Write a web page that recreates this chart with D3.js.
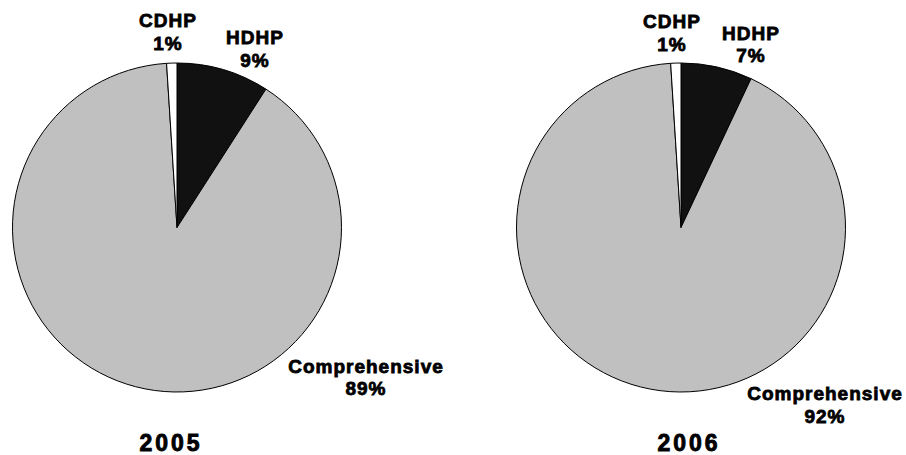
<!DOCTYPE html>
<html>
<head>
<meta charset="utf-8">
<script src="https://cdn.jsdelivr.net/npm/d3@7"></script>
<style>
  html, body { margin: 0; padding: 0; background: #fff; }
  svg { display: block; }
  text { font-family: "Liberation Sans", Arial, sans-serif; font-weight: bold; fill: #000; }
</style>
</head>
<body>
<svg id="chart" width="906" height="455"></svg>
<script>
// ---- data ----
const years = ["2005", "2006"];
const categories = ["HDHP", "Comprehensive", "CDHP"];
const values2005 = [9, 89, 1];
const values2006 = [7, 92, 1];
const colors = ["#111111", "#c0c0c0", "#ffffff"];

// ---- layout ----
const W = 906, H = 455;
const radius = 164.5;
const centers = [{x: 177, y: 227.5}, {x: 681, y: 227.5}];
// label offsets relative to pie centre [name baseline, pct baseline]
const labelPos = [
  { HDHP: {dx: 78, dy: -184, gap: 23}, Comprehensive: {dx: 189, dy: 145, gap: 22}, CDHP: {dx: -9, dy: -201, gap: 23} },
  { HDHP: {dx: 70, dy: -188, gap: 22}, Comprehensive: {dx: 144, dy: 172, gap: 23}, CDHP: {dx: -9, dy: -200, gap: 23} }
];
const yearPos = [{dx: -6, y: 451}, {dx: 8, y: 451}];

const svg = d3.select("#chart");
const color = d3.scaleOrdinal().domain(categories).range(colors);
const pie = d3.pie().sort(null).value(d => d.value);
const arc = d3.arc().innerRadius(0).outerRadius(radius);

[values2005, values2006].forEach((vals, i) => {
  const data = categories.map((c, j) => ({name: c, value: vals[j]}));
  const g = svg.append("g").attr("transform", `translate(${centers[i].x},${centers[i].y})`);
  g.selectAll("path").data(pie(data)).enter().append("path")
    .attr("d", arc)
    .attr("fill", d => color(d.data.name))
    .attr("stroke", "#000")
    .attr("stroke-width", 1)
    .attr("stroke-linejoin", "round");

  data.forEach(d => {
    const p = labelPos[i][d.name];
    const t = g.append("text").attr("text-anchor", "middle")
      .attr("font-size", 19).attr("letter-spacing", 1)
      .attr("stroke", "#000").attr("stroke-width", 0.8);
    t.append("tspan").attr("x", p.dx).attr("y", p.dy).text(d.name);
    t.append("tspan").attr("x", p.dx).attr("y", p.dy + p.gap).text(d.value + "%");
  });

  svg.append("text").attr("text-anchor", "middle")
    .attr("x", centers[i].x + yearPos[i].dx).attr("y", yearPos[i].y)
    .attr("font-size", 23).attr("letter-spacing", 3)
    .attr("stroke", "#000").attr("stroke-width", 0.9)
    .text(years[i]);
});
</script>
</body>
</html>
